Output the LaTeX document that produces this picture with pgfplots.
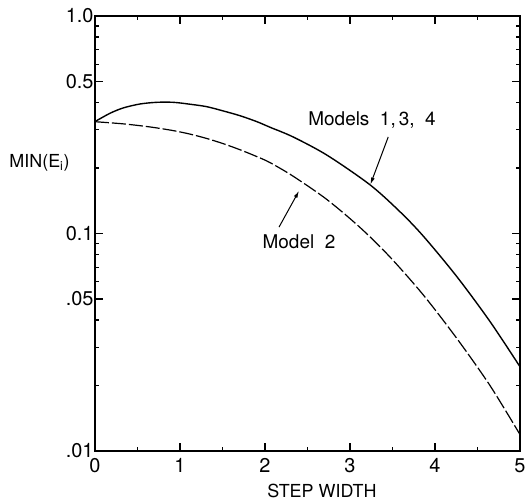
\documentclass[border=0pt]{standalone}
\usepackage{fontspec}
\setmainfont{TeX Gyre Heros}
\usepackage{pgfplots}
\pgfplotsset{compat=1.18}
\usetikzlibrary{arrows.meta}
\begin{document}
\begin{tikzpicture}
\begin{axis}[
  scale only axis,
  width=425bp, height=435bp,
  ymode=log,
  xmin=0, xmax=5, ymin=0.01, ymax=1,
  xtick={0,1,2,3,4,5},
  minor x tick num=1,
  ytick={0.01,0.05,0.1,0.5,1},
  yticklabels={.01,.05,0.1,0.5,1.0},
  minor ytick={0.02,0.03,0.04,0.06,0.07,0.08,0.09,0.2,0.3,0.4,0.6,0.7,0.8,0.9},
  tick align=inside,
  major tick length=8bp, minor tick length=4bp,
  axis line style={line width=1.6bp},
  every tick/.style={line width=1.2bp, black},
  /pgf/number format/assume math mode=true,
  ticklabel style={font=\fontsize{20}{23}\selectfont},
  xticklabel style={yshift=-4bp},
  yticklabel style={xshift=2bp},
  clip=false,
]
\addplot[black, line width=1.4bp, smooth, tension=0.5] coordinates {
(0,0.327) (0.176,0.357) (0.333,0.378) (0.529,0.394) (0.726,0.401) (0.921,0.401)
(1.118,0.393) (1.314,0.383) (1.509,0.366) (1.706,0.348) (1.902,0.327) (2.059,0.308)
(2.33,0.278) (2.73,0.2291) (3.235,0.1675) (3.588,0.1259) (3.862,0.0973)
(4.255,0.0635) (4.647,0.0394) (5,0.0244)};
\addplot[black, line width=1.2bp, smooth, tension=0.5, dash pattern=on 14bp off 3bp] coordinates {
(0,0.3266) (0.333,0.3192) (0.647,0.3090) (0.921,0.2972) (1.118,0.2864) (1.314,0.2735)
(1.509,0.2588) (1.706,0.2427) (1.902,0.2259) (2.059,0.2118) (2.333,0.1832) (2.726,0.1435)
(3.118,0.1066) (3.47,0.0780) (3.862,0.0522) (4.255,0.0330) (4.647,0.0200) (5,0.0119)};
\node[font=\fontsize{19}{22}\selectfont] at (axis cs:3.26,0.333) {Models\ \ 1,\,3,\ \ 4};
\node[font=\fontsize{19}{22}\selectfont] at (axis cs:2.40,0.0914) {Model\ \ 2};
\draw[-{Latex[length=7bp,width=4bp]}, line width=1bp] (axis cs:3.45,0.278) -- (axis cs:3.24,0.168);
\draw[-{Latex[length=7bp,width=4bp]}, line width=1bp] (axis cs:2.165,0.107) -- (axis cs:2.40,0.157);
\node[anchor=east, font=\fontsize{18}{22}\selectfont] at (rel axis cs:0,0.662) [xshift=-22bp] {MIN(E$_{\mathrm{i}}$)};
\node[font=\fontsize{18}{21}\selectfont] at (axis cs:2.67,0.01) [yshift=-40bp] {STEP WIDTH};
\end{axis}
\pgfresetboundingbox
\path[use as bounding box] (-95bp,-51bp) rectangle (430bp,451bp);
\end{tikzpicture}
\end{document}
